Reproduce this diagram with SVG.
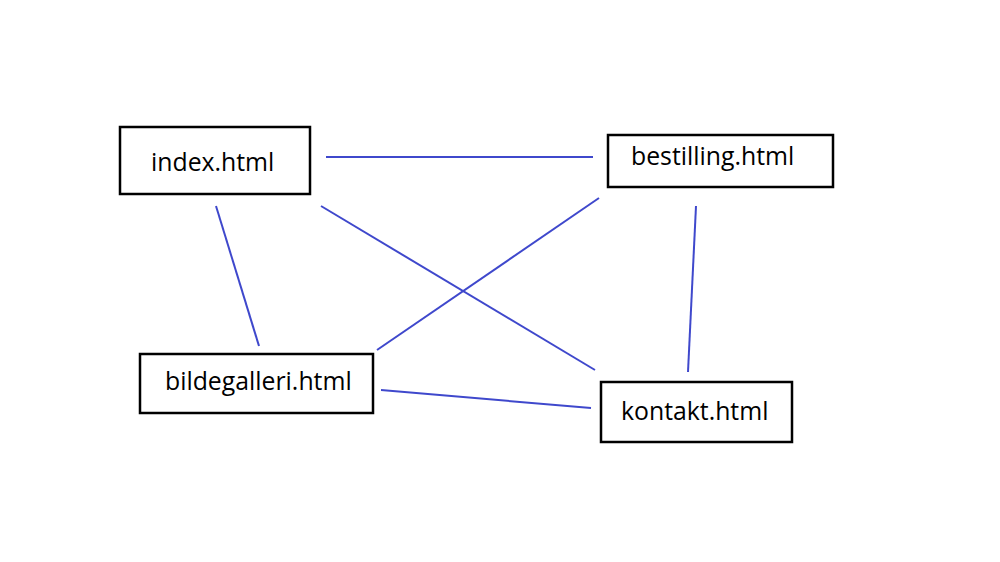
<svg xmlns="http://www.w3.org/2000/svg" width="1000" height="562" viewBox="0 0 1000 562">
<style>
.box{fill:#fff;stroke:#000;stroke-width:2.5}
.lbl{font-family:"Open Sans","Liberation Sans",sans-serif;font-size:24.8px;fill:#000}
.edge{stroke:#3f48cc;stroke-width:2;fill:none}
</style>
<rect width="1000" height="562" fill="#fff"/>
<g id="connectors">
<line class="edge" x1="326" y1="157" x2="593" y2="157"/>
<line class="edge" x1="216" y1="206" x2="259" y2="346"/>
<line class="edge" x1="321" y1="206" x2="595" y2="370"/>
<line class="edge" x1="599" y1="198" x2="377" y2="350"/>
<line class="edge" x1="696" y1="206" x2="688" y2="372"/>
<line class="edge" x1="381" y1="390" x2="591" y2="408"/>
</g>
<g id="index">
<rect class="box" x="120" y="127" width="190" height="67"/>
<text class="lbl" x="151" y="171">index.html</text>
</g>
<g id="bestilling">
<rect class="box" x="608" y="135" width="225" height="52"/>
<text class="lbl" x="631" y="165">bestilling.html</text>
</g>
<g id="bildegalleri">
<rect class="box" x="140" y="354" width="233" height="59"/>
<text class="lbl" x="165" y="390">bildegalleri.html</text>
</g>
<g id="kontakt">
<rect class="box" x="601" y="382" width="191" height="60"/>
<text class="lbl" x="621" y="420">kontakt.html</text>
</g>
</svg>
